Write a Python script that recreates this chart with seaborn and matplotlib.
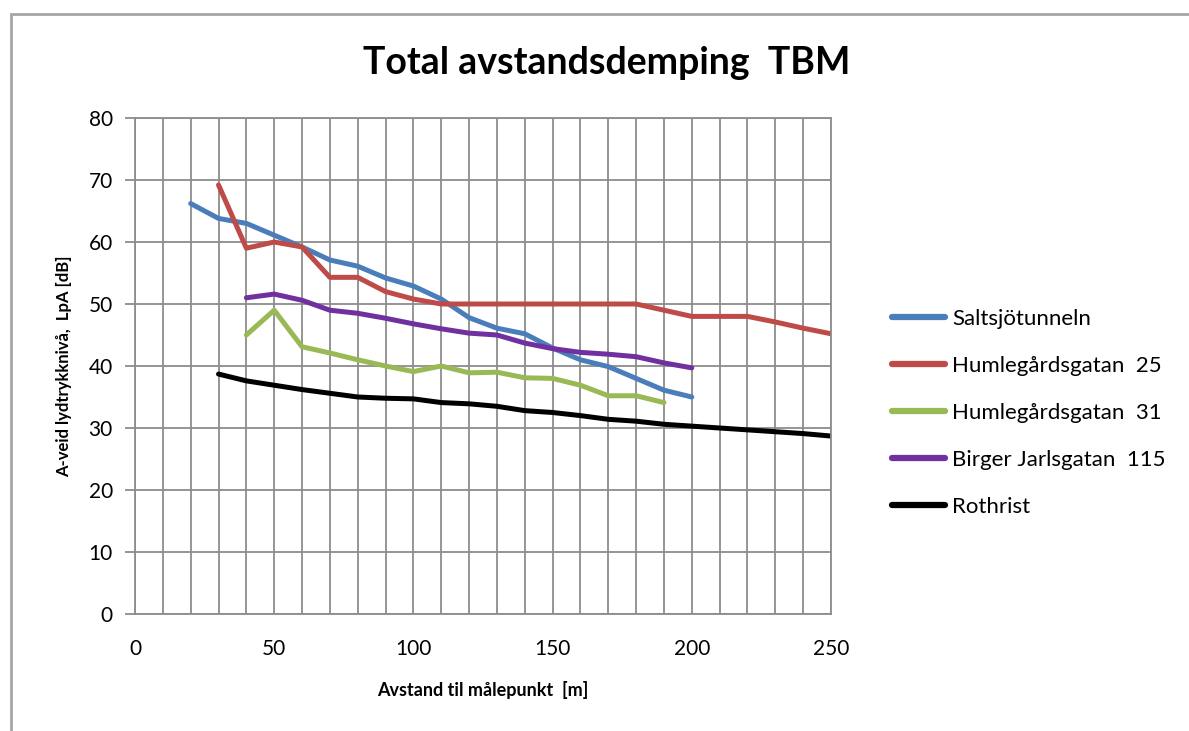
import matplotlib
matplotlib.use("Agg")
import matplotlib.pyplot as plt
import seaborn as sns
import pandas as pd
from matplotlib.patches import Rectangle

# ---- data ----
x_salt = [20, 30, 40, 50, 60, 70, 80, 90, 100, 110, 120, 130, 140, 150, 160, 170, 180, 190, 200]
y_salt = [66.2, 63.8, 63.0, 61.1, 59.2, 57.1, 56.1, 54.2, 52.9, 50.8, 47.8, 46.1, 45.2, 42.9, 41.0, 39.9, 38.0, 36.1, 35.0]

x_h25 = [30, 40, 50, 60, 70, 80, 90, 100, 110, 120, 130, 140, 150, 160, 170, 180, 190, 200, 210, 220, 230, 240, 250]
y_h25 = [69.2, 59.0, 60.0, 59.2, 54.3, 54.3, 52.0, 50.8, 50.0, 50.0, 50.0, 50.0, 50.0, 50.0, 50.0, 50.0, 49.0, 48.0, 48.0, 48.0, 47.1, 46.1, 45.2]

x_h31 = [40, 50, 60, 70, 80, 90, 100, 110, 120, 130, 140, 150, 160, 170, 180, 190]
y_h31 = [45.0, 49.0, 43.1, 42.1, 41.0, 40.0, 39.1, 40.0, 38.9, 39.0, 38.1, 38.0, 36.9, 35.2, 35.2, 34.1]

x_bj = [40, 50, 60, 70, 80, 90, 100, 110, 120, 130, 140, 150, 160, 170, 180, 190, 200]
y_bj = [51.0, 51.6, 50.6, 49.0, 48.5, 47.7, 46.8, 46.0, 45.3, 45.0, 43.7, 42.8, 42.2, 41.9, 41.5, 40.5, 39.7]

x_roth = [30, 40, 50, 60, 70, 80, 90, 100, 110, 120, 130, 140, 150, 160, 170, 180, 190, 200, 210, 220, 230, 240, 250]
y_roth = [38.7, 37.6, 36.9, 36.2, 35.6, 35.0, 34.8, 34.7, 34.1, 33.9, 33.5, 32.8, 32.5, 32.0, 31.4, 31.1, 30.6, 30.3, 30.0, 29.7, 29.4, 29.1, 28.7]

series_names = ["Saltsjötunneln", "Humlegårdsgatan  25", "Humlegårdsgatan  31",
                "Birger Jarlsgatan  115", "Rothrist"]
series_x = [x_salt, x_h25, x_h31, x_bj, x_roth]
series_y = [y_salt, y_h25, y_h31, y_bj, y_roth]
colors = ["#4A7EBB", "#BE4B48", "#98B954", "#7030A0", "#000000"]

x_ticks_labeled = [0, 50, 100, 150, 200, 250]
y_ticks = [0, 10, 20, 30, 40, 50, 60, 70, 80]

title = "Total avstandsdemping  TBM"
xlabel = "Avstand til målepunkt  [m]"
ylabel = "A-veid lydtrykknivå,  LpA [dB]"

# ---- build frame ----
rows = []
for name, xs, ys in zip(series_names, series_x, series_y):
    for xv, yv in zip(xs, ys):
        rows.append({"x": xv, "y": yv, "serie": name})
df = pd.DataFrame(rows)

sns.set_theme(style="white")
plt.rcParams["font.family"] = ["Lato", "DejaVu Sans"]
plt.rcParams["text.color"] = "black"
plt.rcParams["axes.labelcolor"] = "black"

fig = plt.figure(figsize=(11.89, 7.31), dpi=100)
ax = fig.add_axes([135/1189, 1-614/731, (831-135)/1189, (614-118)/731])

sns.lineplot(data=df, x="x", y="y", hue="serie", hue_order=series_names,
             palette=colors, linewidth=3.6, ax=ax, legend=True, sort=False)

ax.set_xlim(0, 250)
ax.set_ylim(0, 80)
ax.set_xticks(list(range(0, 251, 10)))
ax.set_xticklabels([str(v) if v in x_ticks_labeled else "" for v in range(0, 251, 10)])
ax.set_yticks(y_ticks)
ax.grid(True, color="#8C8C8C", linewidth=1.3)
ax.set_axisbelow(True)
for s in ax.spines.values():
    s.set_color("#8C8C8C")
    s.set_linewidth(1.3)
ax.tick_params(axis="x", length=0, pad=18, labelsize=15, colors="black")
ax.tick_params(axis="y", length=7, width=1.3, color="#8C8C8C", pad=9, labelsize=15, labelcolor="black", left=True)

ax.set_xlabel(xlabel, fontsize=13, fontweight="bold", labelpad=16, color="black")
ax.set_ylabel(ylabel, fontsize=12, fontweight="bold", labelpad=12, color="black")
fig.text(607/1189, 1-63/731, title, ha="center", va="center", fontsize=27, fontweight="bold", color="black")

leg = ax.legend(loc="center left", bbox_to_anchor=(872/1189, 1-413/731),
                bbox_transform=fig.transFigure, frameon=False, fontsize=16,
                handlelength=2.4, handletextpad=0.3, labelspacing=1.22)
for line in leg.get_lines():
    line.set_linewidth(4.5)
for t in leg.get_texts():
    t.set_color("black")

fig.patches.append(Rectangle((11/1189, -0.1), 1.2, 1-14/731+0.1, transform=fig.transFigure,
                             fill=False, edgecolor="#A6A6A6", linewidth=2.0))

fig.savefig("out.png", dpi=100, facecolor="white")
